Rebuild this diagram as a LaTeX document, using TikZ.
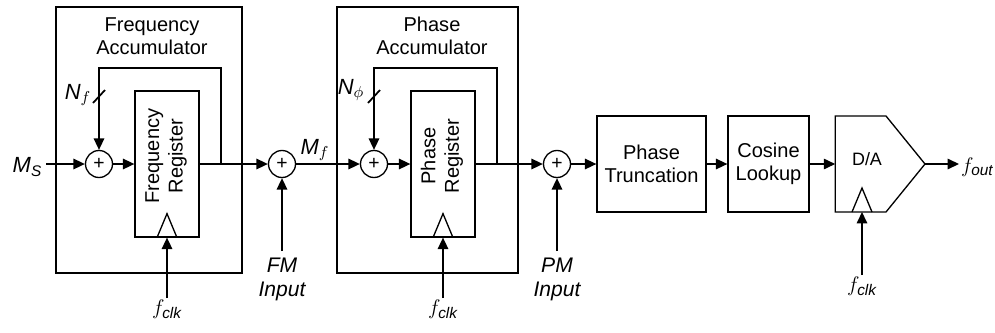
\documentclass[tikz,border=0pt]{standalone}
\usepackage{amsmath}
\usepackage{fontspec}
\setmainfont{Liberation Sans}
\usetikzlibrary{arrows.meta,calc}

\begin{document}
\begin{tikzpicture}[
  x=0.02cm, y=-0.02cm,
  font=\fontsize{11.4}{13.4}\selectfont,
  every node/.style={align=center},
  %% ─── styles ──────────────────────────────────────────────────────
  accbox/.style={
    draw, line width=0.75pt, minimum height=5.32cm, inner sep=0pt},
  regbox/.style={
    draw, line width=0.75pt, minimum width=1.28cm, minimum height=2.92cm, inner sep=0pt},
  regtext/.style={rotate=90, inner sep=0pt},
  sumnode/.style={
    draw, circle, line width=0.75pt, minimum size=0.54cm, inner sep=0pt,
    font=\fontsize{11}{11}\selectfont},
  block/.style={
    draw, line width=0.75pt, minimum height=1.92cm, inner sep=0pt},
  lbl/.style={font=\fontsize{12}{13.4}\selectfont\itshape},
  sym/.style={font=\fontsize{12.5}{14}\selectfont},
  wire/.style={line width=0.75pt},
  arrow/.style={-{Triangle[length=6.5pt,width=6pt]}, line width=0.75pt}
]
  \useasboundingbox (0,0) rectangle (995,332);

  %% ─── 1. accumulators and registers ───────────────────────────────
  \node[accbox, minimum width=3.72cm] (facc) at (149,140) {};
  \node (facctxt) at (152,36) {Frequency\\Accumulator};
  \node[regbox] (freg) at (167,164) {};
  \node[regtext] (fregtxt) at (166,156) {Frequency\\Register};

  \node[accbox, minimum width=3.62cm] (pacc) at (427.5,140) {};
  \node (pacctxt) at (432,36) {Phase\\Accumulator};
  \node[regbox] (preg) at (443,164) {};
  \node[regtext] (pregtxt) at (442,156) {Phase\\Register};

  %% ─── 2. adders ───────────────────────────────────────────────────
  \node[sumnode] (sum1) at (99,164) {+};
  \node[sumnode] (sum2) at (282,164) {+};
  \node[sumnode] (sum3) at (374,164) {+};
  \node[sumnode] (sum4) at (557,164) {+};

  %% ─── 3. output chain ─────────────────────────────────────────────
  \node[block, minimum width=2.18cm] (trunc) at (651.5,164) {Phase\\Truncation};
  \node[block, minimum width=1.62cm] (cos) at (768.5,164) {Cosine\\Lookup};
  \coordinate (dacin) at (835.2,164);
  \coordinate (dacout) at (925,164);
  \coordinate (dacclk) at (862,212);
  \draw[wire] (835.2,116) -- (886,116) -- (dacout) -- (886,212) -- (835.2,212) -- cycle;
  \node[font=\fontsize{10.2}{12}\selectfont] (dactxt) at (867,159) {D/A};

  %% ─── 4. labels ───────────────────────────────────────────────────
  \node[sym, anchor=east, inner sep=2pt] (msin) at (46,167) {$\textit{M}_{\textit{S}}$};
  \node[sym] (mf) at (315,150) {$\textit{M}_{f}$};
  \node[sym] (nf) at (78,95) {$\textit{N}_{f}$};
  \node[sym] (nphi) at (351,90) {$\textit{N}_{\phi}$};
  \node[lbl, anchor=north, inner sep=4pt] (fmin) at (282,251) {FM\\Input};
  \node[lbl, anchor=north, inner sep=4pt] (pmin) at (557,251) {PM\\Input};
  \node[sym, anchor=north, inner sep=1pt] (fclk1) at (167,298) {$f_{\textit{clk}}$};
  \node[sym, anchor=north, inner sep=1pt] (fclk2) at (443,298) {$f_{\textit{clk}}$};
  \node[sym, anchor=north, inner sep=1pt] (fclk3) at (862,275) {$f_{\textit{clk}}$};
  \node[sym, anchor=west, inner sep=1pt] (fout) at (959,167) {$f_{\textit{out}}$};

  %% ─── 5. clock triangles ──────────────────────────────────────────
  \foreach \r in {freg.south, preg.south, dacclk} {
    \draw[wire] ([xshift=-0.2cm]\r) -- ([yshift=0.48cm]\r) -- ([xshift=0.2cm]\r);
  }

  %% ─── 6. signal routing ───────────────────────────────────────────
  % main data path
  \draw[arrow] (msin.east |- sum1) -- (sum1.west);
  \foreach \s/\t in {sum1/freg, freg/sum2, sum2/sum3, sum3/preg, preg/sum4, sum4/trunc, trunc/cos} {
    \draw[arrow] (\s.east) -- (\t.west);
  }
  \draw[arrow] (cos.east) -- (dacin);
  \draw[arrow] (dacout) -- (dacout -| fout.west);

  % accumulator feedback loops
  \coordinate (ftap) at (221,164);
  \coordinate (ftop) at (221,68);
  \draw[arrow] (ftap) -- (ftop) -| (sum1.north);
  \coordinate (ptap) at (497,164);
  \coordinate (ptop) at (497,68);
  \draw[arrow] (ptap) -- (ptop) -| (sum3.north);

  % bus width slashes
  \draw[line width=1pt] (93,103) -- (105,90);
  \draw[line width=1pt] (368,103) -- (380,90);

  % modulation and clock inputs
  \draw[arrow] (fmin.north) -- (sum2.south);
  \draw[arrow] (pmin.north) -- (sum4.south);
  \draw[arrow] (fclk1.north) -- (freg.south);
  \draw[arrow] (fclk2.north) -- (preg.south);
  \draw[arrow] (fclk3.north) -- (dacclk);

\end{tikzpicture}
\end{document}
